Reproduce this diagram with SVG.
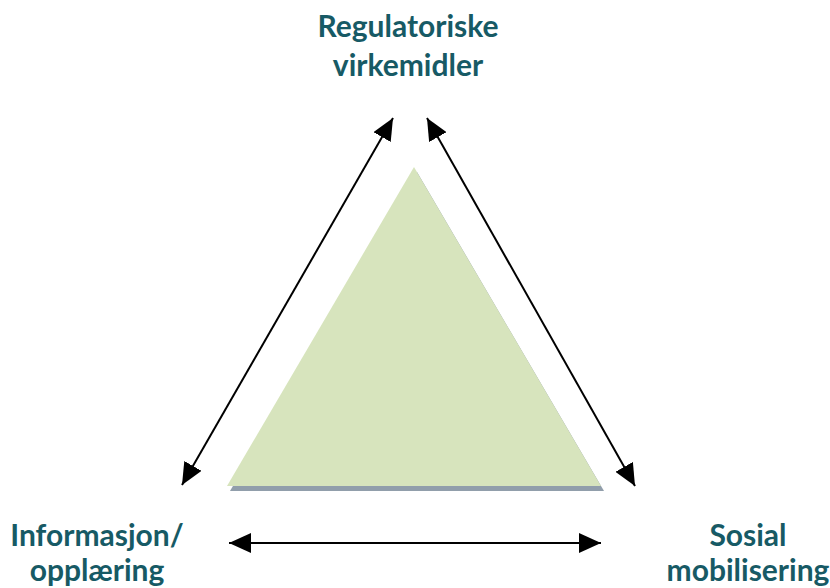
<svg xmlns="http://www.w3.org/2000/svg" width="830" height="588" viewBox="0 0 830 588">
<defs>
<style>
.lbl{font-family:Lato,"Open Sans","Liberation Sans",sans-serif;font-weight:bold;font-size:30px;fill:#175a65;text-anchor:middle}
.con{stroke:#000;stroke-width:2;fill:none;marker-start:url(#ah);marker-end:url(#ah)}
</style>
<marker id="ah" viewBox="0 0 22 20" refX="22" refY="10" markerWidth="22" markerHeight="20" markerUnits="userSpaceOnUse" orient="auto-start-reverse">
<path d="M0,0 L22,10 L0,20 Z" fill="#000"/>
</marker>
</defs>
<rect width="830" height="588" fill="#fff"/>
<g id="triangle">
<polygon points="417,172 604,491 230,491" fill="#919eab"/>
<polygon points="414,167 601,486 227,486" fill="#d7e4bd"/>
</g>
<g id="connectors">
<line class="con" x1="393" y1="118" x2="182" y2="485"/>
<line class="con" x1="427" y1="118" x2="635" y2="486"/>
<line class="con" x1="229" y1="543" x2="601" y2="543"/>
</g>
<g id="node-top">
<text class="lbl" x="408" y="37">Regulatoriske</text>
<text class="lbl" x="408" y="76">virkemidler</text>
</g>
<g id="node-left">
<text class="lbl" x="97" y="546">Informasjon/</text>
<text class="lbl" x="97" y="581">opplæring</text>
</g>
<g id="node-right">
<text class="lbl" x="748" y="546">Sosial</text>
<text class="lbl" x="748" y="581">mobilisering</text>
</g>
</svg>
